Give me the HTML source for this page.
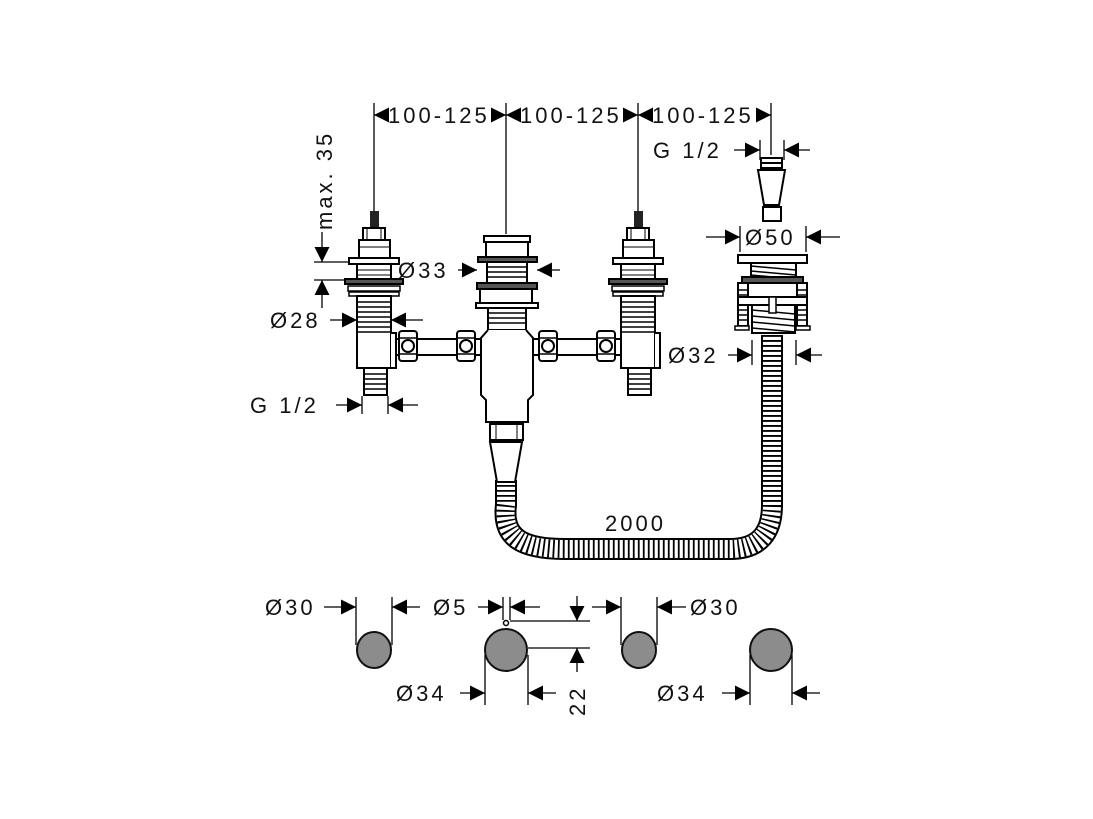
<!DOCTYPE html>
<html><head><meta charset="utf-8"><style>
html,body{margin:0;padding:0;background:#fff}
svg{display:block}
text{font-family:"Liberation Sans",sans-serif;font-size:22px;fill:#111;letter-spacing:3px}
</style></head><body>
<svg width="1093" height="819" viewBox="0 0 1093 819" xmlns="http://www.w3.org/2000/svg">
<defs>
<marker id="a" viewBox="0 0 10 10" refX="10" refY="5" markerWidth="15" markerHeight="15" markerUnits="userSpaceOnUse" orient="auto"><path d="M0,0 L10,5 L0,10z" fill="#000"/></marker>
<g id="valve">
  <rect x="370" y="211" width="9" height="19" fill="#222"/>
  <rect x="363" y="228" width="22" height="12" fill="#fff" stroke="#000" stroke-width="2"/>
  <line x1="367" y1="228" x2="367" y2="240" stroke="#000"/><line x1="381" y1="228" x2="381" y2="240" stroke="#000"/>
  <rect x="359" y="240" width="31" height="18" fill="#fff" stroke="#000" stroke-width="2"/>
  <line x1="359" y1="247" x2="390" y2="247" stroke="#000"/>
  <rect x="349" y="258" width="50" height="6" fill="#fff" stroke="#000" stroke-width="2"/>
  <rect x="357" y="264" width="34" height="16" fill="#fff" stroke="#000" stroke-width="2"/>
  <line x1="357" y1="270" x2="391" y2="270" stroke="#000"/><line x1="357" y1="275" x2="391" y2="275" stroke="#000"/>
  <rect x="345" y="279" width="58" height="5" fill="#555" stroke="#000" stroke-width="2"/>
  <rect x="348" y="286" width="52" height="5" fill="#fff" stroke="#000" stroke-width="1.5"/>
  <rect x="349" y="292" width="50" height="4" fill="#fff" stroke="#000" stroke-width="1.5"/>
  <rect x="357" y="296" width="34" height="72" fill="#fff" stroke="#000" stroke-width="2"/>
  <path d="M357,302H391M357,307H391M357,312H391M357,317H391M357,322H391M357,327H391M357,332H391" stroke="#000" stroke-width="1.5"/>
  <path d="M391,333 h5 v35 h-5" fill="#fff" stroke="#000" stroke-width="2"/>
  <rect x="364" y="368" width="23" height="27" fill="#fff" stroke="#000" stroke-width="2"/>
  <path d="M364,374H387M364,379H387M364,384H387M364,389H387" stroke="#000" stroke-width="1.5"/>
</g>
<g id="nut">
  <rect x="-9" y="-15" width="18" height="30" rx="3" fill="#fff" stroke="#000" stroke-width="2"/>
  <line x1="-9" y1="-8" x2="9" y2="-8" stroke="#000" stroke-width="1.5"/><line x1="-9" y1="8" x2="9" y2="8" stroke="#000" stroke-width="1.5"/>
  <circle r="6" fill="#fff" stroke="#000" stroke-width="2"/>
</g>
</defs>

<rect x="396" y="339" width="225" height="16" fill="#fff" stroke="#000" stroke-width="2"/>

<path d="M506,480 L506,505 C502,538 522,549 565,549 L730,549 C760,549 772,532 772,505 L772,335" fill="none" stroke="#000" stroke-width="22"/>
<path d="M506,480 L506,505 C502,538 522,549 565,549 L730,549 C760,549 772,532 772,505 L772,335" fill="none" stroke="#fff" stroke-width="18"/>
<path d="M506,480 L506,505 C502,538 522,549 565,549 L730,549 C760,549 772,532 772,505 L772,335" fill="none" stroke="#000" stroke-width="18" stroke-dasharray="1.8 3.2"/>

<use href="#valve"/>
<use href="#valve" transform="translate(264,0)"/>

<rect x="484" y="236" width="46" height="6" fill="#fff" stroke="#000" stroke-width="2"/>
<rect x="486" y="242" width="42" height="15" fill="#fff" stroke="#000" stroke-width="2"/>
<rect x="478" y="257" width="59" height="5" fill="#555" stroke="#000" stroke-width="2"/>
<rect x="487" y="262" width="40" height="21" fill="#fff" stroke="#000" stroke-width="2"/>
<path d="M487,267H527M487,272H527M487,277H527" stroke="#000" stroke-width="1.5"/>
<rect x="477" y="283" width="60" height="6" fill="#555" stroke="#000" stroke-width="2"/>
<rect x="480" y="289" width="52" height="14" fill="#fff" stroke="#000" stroke-width="2"/>
<rect x="476" y="303" width="62" height="5" fill="#fff" stroke="#000" stroke-width="2"/>
<rect x="488" y="308" width="38" height="22" fill="#fff" stroke="#000" stroke-width="2"/>
<path d="M488,313H526M488,318H526M488,323H526" stroke="#000" stroke-width="1.5"/>
<path d="M488,330 L481,338 V395 L486,400 V422 H528 V400 L533,395 V338 L526,330" fill="#fff" stroke="#000" stroke-width="2"/>
<rect x="490" y="424" width="33" height="16" fill="#fff" stroke="#000" stroke-width="2"/>
<line x1="496" y1="424" x2="496" y2="440" stroke="#000"/><line x1="517" y1="424" x2="517" y2="440" stroke="#000"/>
<path d="M490,442 H522 L515,482 H497Z" fill="#fff" stroke="#000" stroke-width="2"/>

<use href="#nut" x="408" y="346"/>
<use href="#nut" x="466" y="346"/>
<use href="#nut" x="548" y="346"/>
<use href="#nut" x="606" y="346"/>

<rect x="761" y="158" width="21" height="10" fill="#fff" stroke="#000" stroke-width="2"/>
<line x1="761" y1="163" x2="782" y2="163" stroke="#000" stroke-width="2"/>
<path d="M758,170 H785 L779,205 H764Z" fill="#fff" stroke="#000" stroke-width="2"/>
<rect x="763" y="207" width="18" height="14" fill="#fff" stroke="#000" stroke-width="2"/>
<rect x="738" y="255" width="69" height="8" fill="#fff" stroke="#000" stroke-width="2"/>
<rect x="751" y="263" width="45" height="14" fill="#fff" stroke="#000" stroke-width="2"/>
<path d="M751,266L796,270M751,271L796,275M751,275L796,279" stroke="#000" stroke-width="1.5"/>
<rect x="742" y="277" width="61" height="6" fill="#555" stroke="#000" stroke-width="2"/>
<rect x="738" y="283" width="10" height="43" fill="#fff" stroke="#000" stroke-width="2"/>
<rect x="797" y="283" width="10" height="43" fill="#fff" stroke="#000" stroke-width="2"/>
<path d="M738,290H748M738,295H748M738,310H748M738,315H748M738,320H748M797,290H807M797,295H807M797,310H807M797,315H807M797,320H807" stroke="#000" stroke-width="1.5"/>
<rect x="748" y="283" width="49" height="14" fill="#fff" stroke="#000" stroke-width="2"/>
<rect x="738" y="297" width="69" height="8" fill="#fff" stroke="#000" stroke-width="2"/>
<rect x="752" y="305" width="43" height="28" fill="#fff" stroke="#000" stroke-width="2"/>
<path d="M752,310L795,314M752,316L795,320M752,322L795,326M752,328L795,332" stroke="#000" stroke-width="1.5"/>
<rect x="769" y="297" width="7" height="16" fill="#fff" stroke="#000" stroke-width="1.5"/>
<path d="M735,326h14v4h-14zM796,326h14v4h-14z" fill="#fff" stroke="#000" stroke-width="1.5"/>

<g stroke="#000" stroke-width="1.3" fill="none">
 <line x1="374" y1="103" x2="374" y2="211"/>
 <line x1="506" y1="103" x2="506" y2="234"/>
 <line x1="638" y1="103" x2="638" y2="211"/>
 <line x1="771" y1="103" x2="771" y2="155"/>
 <line x1="388" y1="115" x2="374" y2="115" marker-end="url(#a)"/>
 <line x1="492" y1="115" x2="506" y2="115" marker-end="url(#a)"/>
 <line x1="520" y1="115" x2="506" y2="115" marker-end="url(#a)"/>
 <line x1="624" y1="115" x2="638" y2="115" marker-end="url(#a)"/>
 <line x1="652" y1="115" x2="638" y2="115" marker-end="url(#a)"/>
 <line x1="757" y1="115" x2="771" y2="115" marker-end="url(#a)"/>
 <line x1="734" y1="150" x2="760" y2="150" marker-end="url(#a)"/>
 <line x1="810" y1="150" x2="784" y2="150" marker-end="url(#a)"/>
 <line x1="760" y1="140" x2="760" y2="160"/><line x1="784" y1="140" x2="784" y2="160"/>
 <line x1="322" y1="232" x2="322" y2="262" marker-end="url(#a)"/>
 <line x1="322" y1="308" x2="322" y2="280" marker-end="url(#a)"/>
 <line x1="314" y1="262" x2="348" y2="262"/><line x1="314" y1="280" x2="345" y2="280"/>
 <line x1="458" y1="270" x2="477" y2="270" marker-end="url(#a)"/>
 <line x1="560" y1="270" x2="537" y2="270" marker-end="url(#a)"/>
 <line x1="330" y1="320" x2="357" y2="320" marker-end="url(#a)"/>
 <line x1="423" y1="320" x2="391" y2="320" marker-end="url(#a)"/>
 <line x1="336" y1="405" x2="362" y2="405" marker-end="url(#a)"/>
 <line x1="418" y1="405" x2="388" y2="405" marker-end="url(#a)"/>
 <line x1="362" y1="396" x2="362" y2="414"/><line x1="388" y1="396" x2="388" y2="414"/>
 <line x1="706" y1="237" x2="740" y2="237" marker-end="url(#a)"/>
 <line x1="840" y1="237" x2="806" y2="237" marker-end="url(#a)"/>
 <line x1="740" y1="226" x2="740" y2="252"/><line x1="806" y1="226" x2="806" y2="252"/>
 <line x1="728" y1="355" x2="752" y2="355" marker-end="url(#a)"/>
 <line x1="822" y1="355" x2="796" y2="355" marker-end="url(#a)"/>
 <line x1="752" y1="340" x2="752" y2="365"/><line x1="796" y1="340" x2="796" y2="365"/>
 <line x1="324" y1="607" x2="356" y2="607" marker-end="url(#a)"/>
 <line x1="420" y1="607" x2="392" y2="607" marker-end="url(#a)"/>
 <line x1="356" y1="597" x2="356" y2="645"/><line x1="392" y1="597" x2="392" y2="645"/>
 <line x1="478" y1="607" x2="503" y2="607" marker-end="url(#a)"/>
 <line x1="540" y1="607" x2="510" y2="607" marker-end="url(#a)"/>
 <line x1="503" y1="597" x2="503" y2="620"/><line x1="510" y1="597" x2="510" y2="620"/>
 <line x1="577" y1="596" x2="577" y2="621" marker-end="url(#a)"/>
 <line x1="577" y1="672" x2="577" y2="648" marker-end="url(#a)"/>
 <line x1="510" y1="621" x2="590" y2="621"/><line x1="528" y1="648" x2="590" y2="648"/>
 <line x1="592" y1="607" x2="621" y2="607" marker-end="url(#a)"/>
 <line x1="686" y1="607" x2="657" y2="607" marker-end="url(#a)"/>
 <line x1="621" y1="597" x2="621" y2="645"/><line x1="657" y1="597" x2="657" y2="645"/>
 <line x1="460" y1="693" x2="485" y2="693" marker-end="url(#a)"/>
 <line x1="556" y1="693" x2="528" y2="693" marker-end="url(#a)"/>
 <line x1="485" y1="655" x2="485" y2="705"/><line x1="528" y1="655" x2="528" y2="705"/>
 <line x1="722" y1="693" x2="750" y2="693" marker-end="url(#a)"/>
 <line x1="820" y1="693" x2="792" y2="693" marker-end="url(#a)"/>
 <line x1="750" y1="655" x2="750" y2="705"/><line x1="792" y1="655" x2="792" y2="705"/>
</g>

<g fill="#8c8c8c" stroke="#111" stroke-width="2">
 <ellipse cx="374" cy="650" rx="17" ry="18"/>
 <ellipse cx="506" cy="650" rx="21" ry="21"/>
 <ellipse cx="639" cy="650" rx="17" ry="18"/>
 <ellipse cx="771" cy="650" rx="21" ry="21"/>
</g>
<circle cx="506" cy="623" r="2.5" fill="#fff" stroke="#000" stroke-width="1.5"/>

<text x="388" y="123">100-125</text>
<text x="520" y="123">100-125</text>
<text x="652" y="123">100-125</text>
<text x="653" y="158">G 1/2</text>
<text x="332" y="230" transform="rotate(-90 332 230)">max. 35</text>
<text x="398" y="278">Ø33</text>
<text x="270" y="328">Ø28</text>
<text x="250" y="413">G 1/2</text>
<text x="745" y="245">Ø50</text>
<text x="668" y="363">Ø32</text>
<text x="605" y="531">2000</text>
<text x="265" y="615">Ø30</text>
<text x="433" y="615">Ø5</text>
<text x="690" y="615">Ø30</text>
<text x="396" y="701">Ø34</text>
<text x="657" y="701">Ø34</text>
<text x="585" y="716" transform="rotate(-90 585 716)">22</text>
</svg>
</body></html>
